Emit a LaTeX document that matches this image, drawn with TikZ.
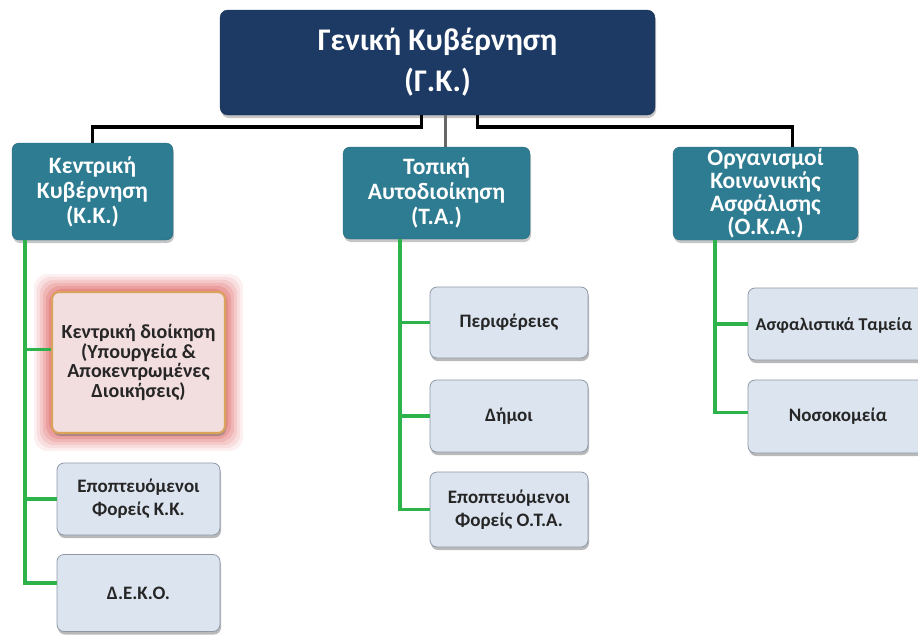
\documentclass[tikz,border=0pt]{standalone}
\usepackage{fontspec}
\setmainfont{Carlito}
\usetikzlibrary{shadows,backgrounds}

\definecolor{gknavy}{HTML}{1C3A64}
\definecolor{gkteal}{HTML}{2E7C92}
\definecolor{leaffill}{HTML}{DCE4EF}
\definecolor{leafline}{HTML}{8E98A6}
\definecolor{pinkfill}{HTML}{F2DDDF}
\definecolor{pinkline}{HTML}{D9A35C}
\definecolor{glowred}{HTML}{E06A6A}
\definecolor{branchgreen}{HTML}{2DB34A}

\tikzset{
  topbox/.style={rectangle, rounded corners=8pt, fill=gknavy, draw=gknavy!80!black,
    text=white, align=center, inner sep=0pt,
    font=\bfseries\fontsize{31.5}{41}\selectfont,
    drop shadow={shadow xshift=1pt, shadow yshift=-3pt, opacity=0.45}},
  midbox/.style={rectangle, rounded corners=7pt, fill=gkteal, draw=gkteal!85!black,
    text=white, align=center, inner sep=0pt,
    font=\bfseries\fontsize{23.5}{25}\selectfont,
    drop shadow={shadow xshift=1pt, shadow yshift=-3pt, opacity=0.45}},
  leafbox/.style={rectangle, rounded corners=7pt, fill=leaffill, draw=leafline,
    text=black!85, align=center, inner sep=0pt, line width=0.8pt,
    font=\bfseries\fontsize{19}{23}\selectfont,
    drop shadow={shadow xshift=1pt, shadow yshift=-3pt, opacity=0.55}},
  trunk/.style={line width=3.6pt, black},
  branch/.style={line width=3.4pt, branchgreen},
}

\begin{document}
\begin{tikzpicture}[x=1pt, y=-1pt]
    \useasboundingbox (0,0) rectangle (918,635);
    \clip (0,0) rectangle (918,635);
    % general government
    \node[topbox, minimum width=435pt, minimum height=105pt] (gk) at (437.5,62.5) {Γενική Κυβέρνηση\\(Γ.Κ.)};
    % three sub-sectors
    \node[midbox, minimum width=161pt, minimum height=97pt] (kk) at (92.5,191.5) {Κεντρική\\Κυβέρνηση\\(Κ.Κ.)};
    \node[midbox, minimum width=187pt, minimum height=92pt] (ta) at (436.5,193) {Τοπική\\Αυτοδιοίκηση\\(Τ.Α.)};
    \node[midbox, minimum width=185pt, minimum height=93pt, font=\bfseries\fontsize{23.5}{23}\selectfont] (oka) at (765.5,193.5) {Οργανισμοί\\Κοινωνικής\\Ασφάλισης\\(Ο.Κ.Α.)};
    % central government units
    \node[leafbox, minimum width=173pt, minimum height=141pt, fill=pinkfill, draw=pinkline, line width=2.2pt, font=\bfseries\fontsize{20}{19.5}\selectfont] (kd) at (138.5,362.5) {Κεντρική διοίκηση\\(Υπουργεία \&\\Αποκεντρωμένες\\Διοικήσεις)};
    \node[leafbox, minimum width=163pt, minimum height=72pt] (epkk) at (138.5,499) {Εποπτευόμενοι\\Φορείς Κ.Κ.};
    \node[leafbox, minimum width=163pt, minimum height=77pt] (deko) at (138.5,593) {Δ.Ε.Κ.Ο.};
    % local government units
    \node[leafbox, minimum width=158pt, minimum height=71pt] (per) at (509,322.5) {Περιφέρειες};
    \node[leafbox, minimum width=158pt, minimum height=72pt] (dim) at (509,416) {Δήμοι};
    \node[leafbox, minimum width=158pt, minimum height=75pt] (ota) at (509,509.5) {Εποπτευόμενοι\\Φορείς Ο.Τ.Α.};
    % social security units
    \node[leafbox, minimum width=180pt, minimum height=72pt, font=\bfseries\fontsize{18}{23}\selectfont, text depth=0pt] (asf) at (838,324) {\hspace*{-8pt}Ασφαλιστικά Ταμεία};
    \node[leafbox, minimum width=180pt, minimum height=73pt] (nos) at (838,416.5) {Νοσοκομεία};
    % red glow round the highlighted box
    \begin{scope}[on background layer]
        \foreach \g/\o in {17/0.10, 14/0.13, 11/0.17, 8/0.22, 5/0.30, 2/0.40}
            \fill[glowred, opacity=\o, rounded corners=14pt] ([shift={(-\g pt,-\g pt)}]kd.south west) rectangle ([shift={(\g pt,\g pt)}]kd.north east);
    \end{scope}
    % connectors from the top box
    \draw[trunk] ([xshift=-16pt]gk.south) |- ([yshift=16pt]kk.north) -- (kk.north);
    \draw[line width=2.4pt, black!60] ([xshift=8pt]gk.south) -- ([xshift=8pt]gk.south |- ta.north);
    \draw[trunk] ([xshift=40pt]gk.south) |- ([xshift=27pt, yshift=20pt]oka.north) -- ([xshift=27pt]oka.north);
    % green branches
    \draw[branch] ([xshift=13pt]kk.south west) |- ([yshift=13pt]kd.west);
    \draw[branch] ([xshift=13pt]kk.south west) |- (epkk.west);
    \draw[branch] ([xshift=13pt]kk.south west) |- ([yshift=10pt]deko.west);
    \draw[branch] ([xshift=57pt]ta.south west) |- (per.west);
    \draw[branch] ([xshift=57pt]ta.south west) |- (dim.west);
    \draw[branch] ([xshift=57pt]ta.south west) |- (ota.west);
    \draw[branch] ([xshift=42pt]oka.south west) |- (asf.west);
    \draw[branch] ([xshift=42pt]oka.south west) |- ([yshift=4pt]nos.west);
\end{tikzpicture}
\end{document}
